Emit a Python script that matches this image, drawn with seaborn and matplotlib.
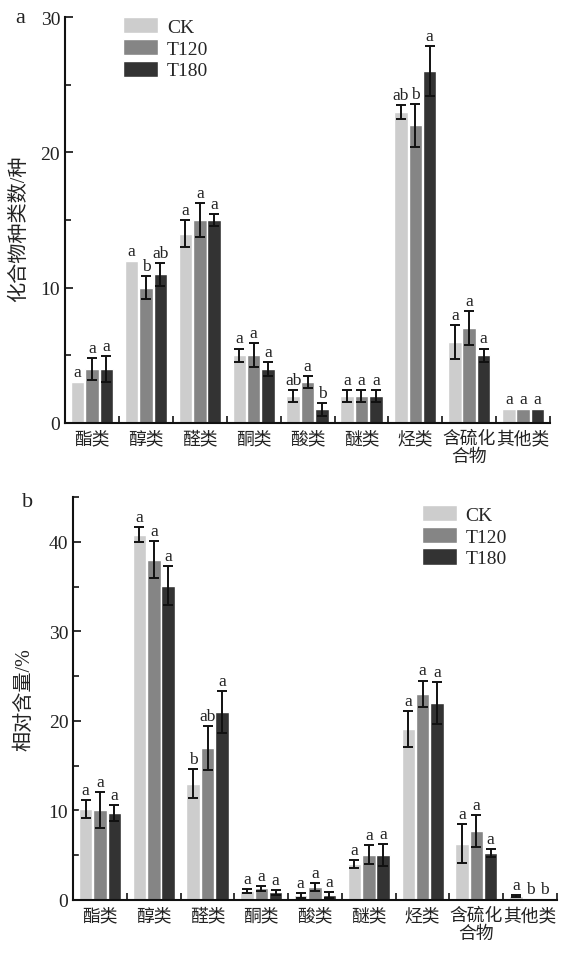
import numpy as np
import pandas as pd
import seaborn as sns
import matplotlib.pyplot as plt
from matplotlib.ticker import MultipleLocator, FixedLocator

categories = ['酯类', '醇类', '醛类', '酮类', '酸类', '醚类', '烃类', '含硫化\n合物', '其他类']
groups = ['CK', 'T120', 'T180']

# a: 化合物种类数/种
count_ck = [3, 12, 14, 5, 2, 2, 23, 6, 1]
count_t120 = [4, 10, 15, 5, 3, 2, 22, 7, 1]
count_t180 = [4, 11, 15, 4, 1, 2, 26, 5, 1]
count_err_ck = [0, 0, 1.0, 0.5, 0.45, 0.45, 0.5, 1.25, 0]
count_err_t120 = [0.8, 0.85, 1.25, 0.9, 0.45, 0.45, 1.6, 1.25, 0]
count_err_t180 = [0.95, 0.85, 0.45, 0.5, 0.45, 0.45, 1.85, 0.5, 0]
count_sig_ck = ['a', 'a', 'a', 'a', 'ab', 'a', 'ab', 'a', 'a']
count_sig_t120 = ['a', 'b', 'a', 'a', 'a', 'a', 'b', 'a', 'a']
count_sig_t180 = ['a', 'ab', 'a', 'a', 'b', 'a', 'a', 'a', 'a']

# b: 相对含量/%
pct_ck = [10.2, 40.8, 13, 1.0, 0.5, 4.0, 19.1, 6.3, 0.4]
pct_t120 = [10, 38, 17, 1.3, 1.4, 5.05, 23, 7.7, 0.1]
pct_t180 = [9.7, 35.1, 21, 0.85, 0.55, 5.0, 22, 5.2, 0.1]
pct_err_ck = [1.0, 0.85, 1.6, 0.25, 0.25, 0.45, 2.0, 2.2, 0.1]
pct_err_t120 = [2.0, 2.05, 2.45, 0.3, 0.45, 1.05, 1.5, 1.75, 0]
pct_err_t180 = [0.85, 2.15, 2.35, 0.25, 0.3, 1.2, 2.3, 0.45, 0]
pct_sig_ck = ['a', 'a', 'b', 'a', 'a', 'a', 'a', 'a', 'a']
pct_sig_t120 = ['a', 'a', 'ab', 'a', 'a', 'a', 'a', 'a', 'b']
pct_sig_t180 = ['a', 'a', 'a', 'a', 'a', 'a', 'a', 'a', 'b']

palette = ['#cdcdcd', '#858585', '#333333']
text_color = '#222222'

sns.set_style('ticks')
plt.rcParams['font.family'] = ['Liberation Serif', 'Noto Sans CJK SC']
plt.rcParams['axes.unicode_minus'] = False


def draw_panel(ax, vals, errs, sigs, ymax, ylabel, legend_pos):
    df = pd.DataFrame({
        '类别': categories * len(groups),
        '组': np.repeat(groups, len(categories)),
        '值': np.concatenate(vals),
    })
    sns.barplot(data=df, x='类别', y='值', hue='组', order=categories,
                hue_order=groups, palette=palette, errorbar=None,
                gap=0.06, width=0.8, saturation=1, ax=ax)

    for cont, err, sig in zip(ax.containers, errs, sigs):
        xs = np.array([p.get_x() + p.get_width() / 2 for p in cont])
        ys = np.array([p.get_height() for p in cont])
        err = np.array(err)
        m = err > 0
        ax.errorbar(xs[m], ys[m], yerr=err[m], fmt='none', ecolor='#111111',
                    elinewidth=1.4, capsize=3.5, capthick=1.4, zorder=3)
        for x, y, e, s in zip(xs, ys, err, sig):
            ax.annotate(s, (x, y + e), xytext=(0, 1.5), textcoords='offset points',
                        ha='center', va='bottom', fontsize=12.5, color=text_color)

    ax.set_xlim(-0.5, 8.5)
    ax.set_ylim(0, ymax)
    ax.set_xticks(range(len(categories)))
    ax.set_xticklabels(categories, linespacing=1.05, fontweight='light')
    ax.xaxis.set_minor_locator(FixedLocator(np.arange(0.5, 9, 1)))
    ax.yaxis.set_major_locator(MultipleLocator(10))
    ax.yaxis.set_minor_locator(MultipleLocator(5))
    ax.tick_params(axis='x', which='major', length=0, pad=5, labelsize=12.8, colors=text_color)
    ax.tick_params(axis='x', which='minor', direction='in', length=5, width=1.3)
    ax.tick_params(axis='y', which='major', direction='in', length=6, width=1.3,
                   labelsize=14, colors=text_color)
    ax.tick_params(axis='y', which='minor', direction='in', length=4, width=1.3)
    ax.set_xlabel('')
    ax.set_ylabel(ylabel, fontsize=14.5, color=text_color, fontweight='light')
    sns.despine(ax=ax)
    for sp in ['left', 'bottom']:
        ax.spines[sp].set_linewidth(1.5)
        ax.spines[sp].set_color('#111111')

    ax.legend(handles=ax.containers, labels=groups, loc='upper left',
              bbox_to_anchor=legend_pos, frameon=False, fontsize=14,
              handlelength=1.8, handleheight=0.9, labelspacing=0.15,
              handletextpad=0.45, borderpad=0, borderaxespad=0)


fig = plt.figure(figsize=(5.76, 9.54), dpi=100)
ax_a = fig.add_axes([0.113, 0.5556, 0.842, 0.4254])
ax_b = fig.add_axes([0.127, 0.0556, 0.840, 0.4224])

draw_panel(ax_a,
           [count_ck, count_t120, count_t180],
           [count_err_ck, count_err_t120, count_err_t180],
           [count_sig_ck, count_sig_t120, count_sig_t180],
           30, '化合物种类数/种', (0.12, 1.0))
draw_panel(ax_b,
           [pct_ck, pct_t120, pct_t180],
           [pct_err_ck, pct_err_t120, pct_err_t180],
           [pct_sig_ck, pct_sig_t120, pct_sig_t180],
           45, '相对含量/%', (0.72, 0.98))

ax_a.yaxis.set_label_coords(-0.075, 0.48)
ax_b.yaxis.set_label_coords(-0.08, 0.5)

fig.text(0.026, 0.981, 'a', fontsize=16, va='center', color=text_color)
fig.text(0.038, 0.473, 'b', fontsize=16, va='center', color=text_color)

fig.savefig('out.png', dpi=100)
